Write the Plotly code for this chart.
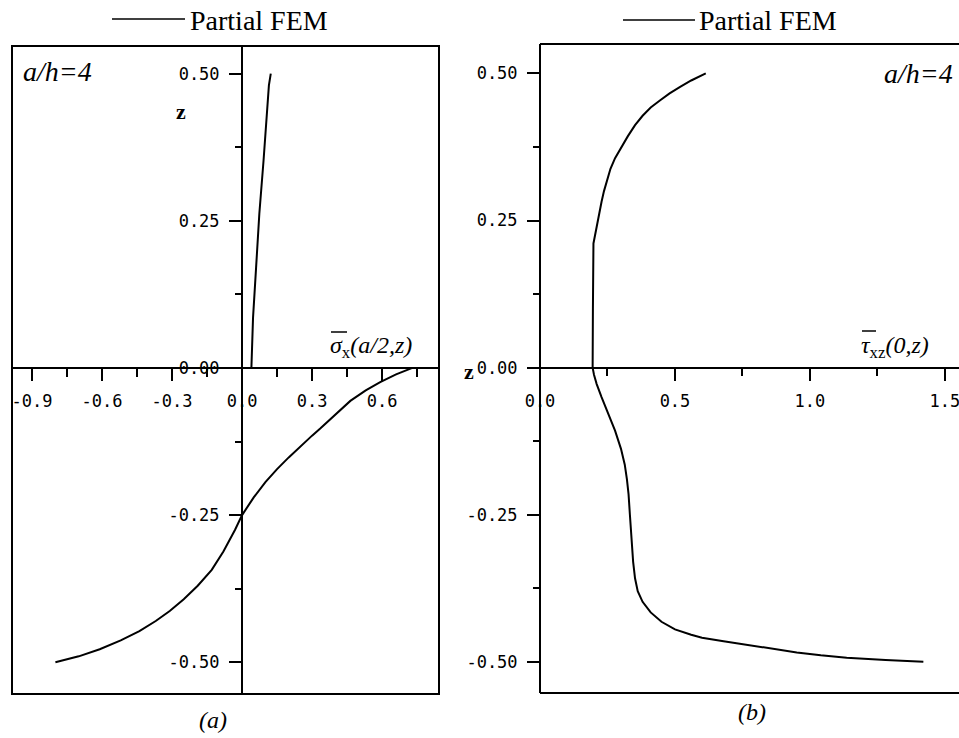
import plotly.graph_objects as go

W, H = 959, 738

# ---- data: panel (a) sigma_x(a/2, z) ----
a_lower_x = [-0.80, -0.70, -0.61, -0.52, -0.44, -0.37, -0.31, -0.25, -0.19, -0.13, -0.08, -0.03,
             0.00, 0.05, 0.10, 0.15, 0.20, 0.25, 0.30, 0.335, 0.40, 0.464, 0.53, 0.592, 0.66, 0.73]
a_lower_z = [-0.50, -0.490, -0.478, -0.463, -0.447, -0.430, -0.413, -0.393, -0.370, -0.343, -0.312, -0.275,
             -0.250, -0.220, -0.194, -0.172, -0.152, -0.133, -0.115, -0.103, -0.079, -0.056, -0.038, -0.024, -0.011, 0.0]
a_upper_x = [0.040, 0.047, 0.060, 0.074, 0.092, 0.109, 0.115, 0.123]
a_upper_z = [0.0, 0.085, 0.17, 0.262, 0.352, 0.437, 0.48, 0.50]

# ---- data: panel (b) tau_xz(0, z) ----
b_x = [0.614, 0.560, 0.519, 0.480, 0.444, 0.410, 0.380, 0.352, 0.325, 0.300, 0.278, 0.261, 0.248, 0.237, 0.228,
       0.218, 0.210, 0.198, 0.196, 0.195,
       0.200, 0.210, 0.228, 0.247, 0.278, 0.300, 0.314, 0.322, 0.328, 0.333, 0.339, 0.345, 0.352, 0.362, 0.380,
       0.410, 0.450, 0.500, 0.560, 0.600, 0.680, 0.765, 0.860, 0.951, 1.040, 1.136, 1.280, 1.42]
b_z = [0.50, 0.488, 0.477, 0.466, 0.454, 0.442, 0.428, 0.412, 0.393, 0.374, 0.356, 0.338, 0.318, 0.300, 0.282,
       0.260, 0.239, 0.211, 0.10, 0.0,
       -0.012, -0.028, -0.050, -0.073, -0.107, -0.138, -0.165, -0.190, -0.215, -0.250, -0.290, -0.330, -0.358, -0.380, -0.398,
       -0.416, -0.432, -0.445, -0.454, -0.459, -0.465, -0.471, -0.478, -0.484, -0.489, -0.493, -0.497, -0.50]

# ---- ticks ----
a_xticks = [-0.9, -0.6, -0.3, 0.0, 0.3, 0.6]
a_xlabels = ["-0.9", "-0.6", "-0.3", "0.0", "0.3", "0.6"]
a_xminor = [-0.75, -0.45, -0.15, 0.15, 0.45, 0.75]
b_xticks = [0.0, 0.5, 1.0, 1.5]
b_xlabels = ["0.0", "0.5", "1.0", "1.5"]
b_xminor = [0.25, 0.75, 1.25]
zticks = [-0.5, -0.25, 0.0, 0.25, 0.5]
zlabels = ["-0.50", "-0.25", "0.00", "0.25", "0.50"]
zminor = [-0.375, -0.125, 0.125, 0.375]

def px(x):
    return x / W

def py(y):
    return 1 - y / H

fig = go.Figure()
fig.add_trace(go.Scatter(x=a_lower_x + [None] + a_upper_x, y=a_lower_z + [None] + a_upper_z,
                         mode="lines", line=dict(color="black", width=2), name="Partial FEM",
                         xaxis="x", yaxis="y", showlegend=False))
fig.add_trace(go.Scatter(x=b_x, y=b_z, mode="lines", line=dict(color="black", width=2),
                         name="Partial FEM", xaxis="x2", yaxis="y2", showlegend=False))

tickfont = dict(family="DejaVu Sans Mono", size=17, color="black")
common = dict(showline=True, linewidth=2, linecolor="black", ticks="outside", ticklen=12,
              tickwidth=2, tickcolor="black", showgrid=False, zeroline=False, automargin=False,
              tickfont=tickfont, tickmode="array", ticklabelstandoff=6, ticklabeloverflow="allow")

zero_y_paper = py(367.75)
fig.update_layout(
    width=W, height=H, margin=dict(l=0, r=0, t=0, b=0, autoexpand=False),
    paper_bgcolor="white", plot_bgcolor="white",
    xaxis=dict(domain=[px(12), px(439)], range=[-0.986, 0.844], anchor="free", position=zero_y_paper,
               tickvals=a_xticks, ticktext=a_xlabels,
               minor=dict(tickvals=a_xminor, ticklen=8, tickwidth=2, tickcolor="black", ticks="outside"),
               **common),
    yaxis=dict(domain=[py(694), py(46)], range=[-0.554, 0.547], anchor="free", position=px(242),
               tickvals=zticks, ticktext=zlabels,
               minor=dict(tickvals=zminor, ticklen=6, tickwidth=2, tickcolor="black", ticks="outside"),
               **common),
    xaxis2=dict(domain=[px(540), 1.0], range=[0.0, 1.552], anchor="free", position=zero_y_paper,
                tickvals=b_xticks, ticktext=b_xlabels,
                minor=dict(tickvals=b_xminor, ticklen=7, tickwidth=2, tickcolor="black", ticks="outside"),
                **common),
    yaxis2=dict(domain=[py(693), py(44)], range=[-0.553, 0.550], anchor="free", position=px(540),
                tickvals=zticks, ticktext=zlabels,
                minor=dict(tickvals=zminor, ticklen=6, tickwidth=2, tickcolor="black", ticks="outside"),
                **common),
)

# frame of panel (a)
fig.add_shape(type="rect", xref="paper", yref="paper", x0=px(12), x1=px(439), y0=py(694), y1=py(46),
              line=dict(color="black", width=2))
# frame of panel (b): top and bottom (right edge lies outside the picture)
fig.add_shape(type="line", xref="paper", yref="paper", x0=px(540), x1=1.0, y0=py(44), y1=py(44),
              line=dict(color="black", width=2))
fig.add_shape(type="line", xref="paper", yref="paper", x0=px(540), x1=1.0, y0=py(693), y1=py(693),
              line=dict(color="black", width=2))

serif = "Liberation Serif"
# legend keys
for x0, x1, y in [(112, 185, 19), (623, 695, 20)]:
    fig.add_shape(type="line", xref="paper", yref="paper", x0=px(x0), x1=px(x1), y0=py(y), y1=py(y),
                  line=dict(color="black", width=1.5))
# overbars on sigma and tau
for x0, x1, y in [(331, 347, 332), (862, 876, 331)]:
    fig.add_shape(type="line", xref="paper", yref="paper", x0=px(x0), x1=px(x1), y0=py(y), y1=py(y),
                  line=dict(color="black", width=1.5))

def ann(text, x, y, size, xanchor="left", family=serif):
    fig.add_annotation(text=text, x=px(x), y=py(y), xref="paper", yref="paper", showarrow=False,
                       xanchor=xanchor, yanchor="middle", font=dict(family=family, size=size, color="black"))

ann("Partial FEM", 188, 20, 28)
ann("Partial FEM", 697, 20, 28)
ann("<i>a/h=4</i>", 21, 72, 28)
ann("<i>a/h=4</i>", 882, 73, 28)
ann("<b>z</b>", 181, 112, 22, xanchor="center")
ann("<b>z</b>", 469, 371, 22, xanchor="center")
ann("<i>σ</i><sub>x</sub><i>(a/2,z)</i>", 328, 347, 24)
ann("<i>τ</i><sub>xz</sub><i>(0,z)</i>", 859, 347, 24)
ann("<i>(a)</i>", 213, 720, 24, xanchor="center")
ann("<i>(b)</i>", 752, 712, 24, xanchor="center")

fig.write_html("out.html")
